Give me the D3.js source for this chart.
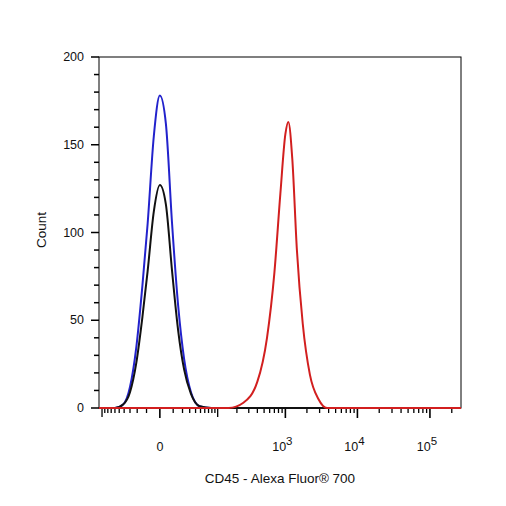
<!DOCTYPE html>
<html><head><meta charset="utf-8">
<script src="https://cdn.jsdelivr.net/npm/d3@7"></script>
<style>body{margin:0;background:#fff}text{font-family:"Liberation Sans",Arial,sans-serif;fill:#111}</style>
</head><body><div id="chart"></div>
<script>
// fluorescence (data units) vs count
const blueX = [-112,-60,-42,-30,-21,-14,-9,-4,0,4,9,15,22,32,48,75,268000];
const blueY = [0,0,2,12,35,70,105,155,178,162,105,58,28,9,1,0,0];
const blackX = [-112,-60,-42,-30,-21,-14,-9,-4,0,4,9,15,22,32,48,80,268000];
const blackY = [0,0,2,9,26,52,78,112,127,116,78,44,22,8,1,0,0];
const redX = [-112,150,250,400,550,700,850,1000,1100,1250,1450,1750,2200,2900,3800,268000];
const redY = [0,0,3,15,40,77,122,156,163,142,90,48,19,5,0,0];
const yTicks = [0,50,100,150,200];
const xMajor = [0,1000,10000,100000];
const xLabels = ["0","10|3","10|4","10|5"];

const svg = d3.select('#chart').append('svg').attr('width',506).attr('height',506);
const x = d3.scaleSymlog().constant(19).domain([-112,268000]).range([99,461]);
const y = d3.scaleLinear().domain([0,200]).range([408,57]);

svg.append('rect').attr('x',99).attr('y',57).attr('width',362).attr('height',351)
  .attr('fill','none').attr('stroke','#000').attr('stroke-width',1);

// y axis
const yMinor = d3.range(0,201,10);
svg.selectAll('.ym').data(yMinor).enter().append('line')
  .attr('x1',d => yTicks.includes(d) ? 91 : 94).attr('x2',99)
  .attr('y1',d => y(d)).attr('y2',d => y(d)).attr('stroke','#000').attr('stroke-width',1.5);
svg.selectAll('.yl').data(yTicks).enter().append('text')
  .attr('x',84).attr('y',d => y(d)+4).attr('text-anchor','end').attr('font-size',12.5).text(d => d);

// x axis ticks
let xMinor = d3.range(-100,0,10).concat(d3.range(10,101,10),d3.range(200,1000,100),
  d3.range(2000,10000,1000),d3.range(20000,100000,10000),[200000]);
svg.selectAll('.xm').data(xMinor).enter().append('line')
  .attr('x1',d => x(d)).attr('x2',d => x(d)).attr('y1',408)
  .attr('y2',d => Math.abs(d)===100 ? 417 : 413).attr('stroke','#000').attr('stroke-width',1.3);
svg.selectAll('.xM').data(xMajor).enter().append('line')
  .attr('x1',d => x(d)).attr('x2',d => x(d)).attr('y1',408).attr('y2',418)
  .attr('stroke','#000').attr('stroke-width',1.6);
xMajor.forEach((v,i) => {
  const [b,e] = xLabels[i].split('|');
  const t = svg.append('text').attr('x',x(v)+(e?-3:0)).attr('y',451).attr('text-anchor','middle').attr('font-size',12.5);
  t.append('tspan').text(b);
  if(e) t.append('tspan').attr('dy',-6).attr('font-size',11.5).text(e);
});

const line = d3.line().x(d => x(d[0])).y(d => y(d[1])).curve(d3.curveMonotoneX);
[[blueX,blueY,'#2222cc'],[blackX,blackY,'#111'],[redX,redY,'#d21f1f']].forEach(([xs,ys,c]) => {
  svg.append('path').attr('d',line(d3.zip(xs,ys))).attr('fill','none')
    .attr('stroke',c).attr('stroke-width',2);
});

svg.append('text').attr('x',280).attr('y',483).attr('text-anchor','middle').attr('font-size',13.5)
  .text('CD45 - Alexa Fluor® 700');
svg.append('text').attr('transform','translate(46,230) rotate(-90)').attr('text-anchor','middle')
  .attr('font-size',13.5).text('Count');
</script></body></html>
